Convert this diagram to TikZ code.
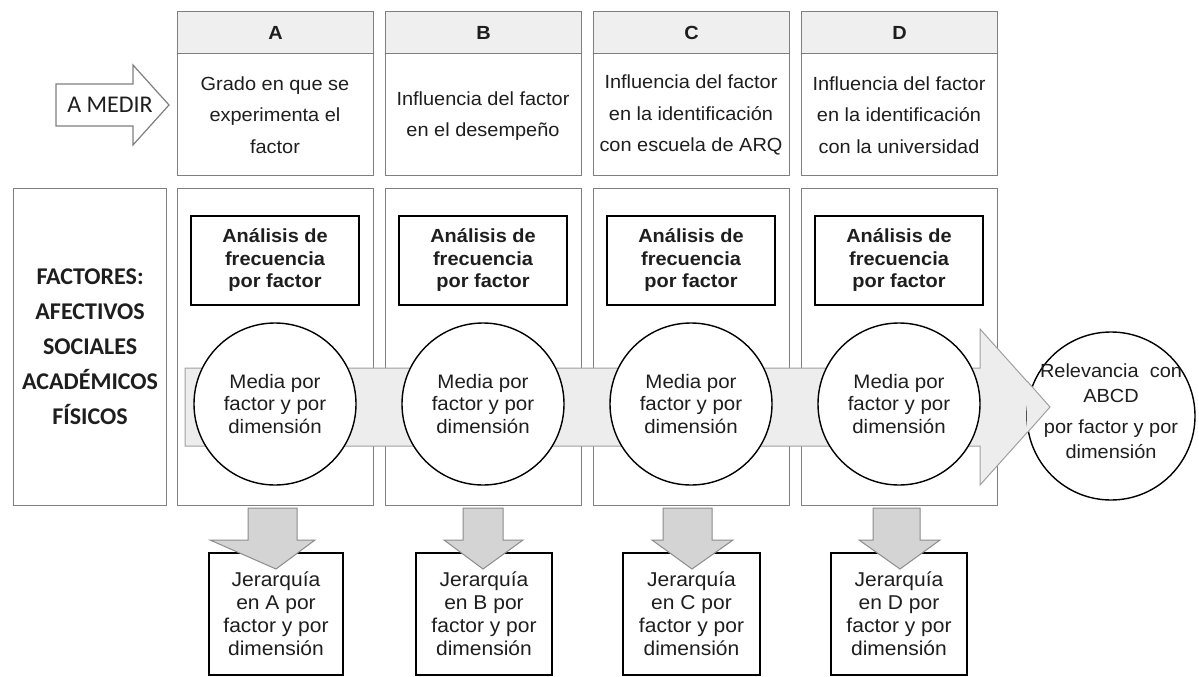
\documentclass[tikz,border=0pt]{standalone}
\usepackage{fontspec}
\setmainfont{Liberation Sans}[FakeStretch=1.05]
\newfontfamily\calibri{Carlito}
\definecolor{boxgray}{HTML}{7F7F7F}
\definecolor{headfill}{HTML}{EFEFEF}
\definecolor{bigfill}{HTML}{EDEDED}
\definecolor{bigline}{HTML}{A0A0A0}
\definecolor{downfill}{HTML}{D4D4D4}
\definecolor{downline}{HTML}{8C8C8C}
\definecolor{txt}{HTML}{1E1E1E}
\begin{document}
\begin{tikzpicture}[x=1pt,y=-1pt,
  every node/.style={text=txt},
  colbox/.style={draw=boxgray, line width=1.2pt, fill=white, rectangle, inner sep=0pt},
  headbox/.style={draw=boxgray, line width=1.2pt, fill=headfill, rectangle, inner sep=0pt, minimum width=196pt, minimum height=42pt, font=\bfseries\fontsize{19}{23}\selectfont},
  coltext/.style={align=center, font=\fontsize{19}{31.5}\selectfont},
  anabox/.style={draw=black, line width=1.8pt, fill=white, rectangle, inner sep=0pt, minimum width=168pt, minimum height=89pt, align=center, font=\bfseries\fontsize{19}{22.5}\selectfont},
  medcirc/.style={draw=black, line width=1.4pt, fill=white, circle, inner sep=0pt, minimum size=162pt, align=center, font=\fontsize{19.5}{22.5}\selectfont},
  jerbox/.style={draw=black, line width=1.8pt, fill=white, rectangle, inner sep=0pt, minimum height=122pt, align=center, font=\fontsize{20}{23}\selectfont},
  bigarrow/.style={draw=bigline, line width=1pt, fill=bigfill, line join=miter},
  downarrow/.style={draw=downline, line width=1pt, fill=downfill, line join=miter}
]
\useasboundingbox (0,0) rectangle (1199,677);

% A MEDIR arrow
\draw[draw=boxgray, line width=1.2pt, fill=white, line join=miter]
  (56,84) -- (133,84) -- (133,65) -- (169,105) -- (133,145) -- (133,126) -- (56,126) -- cycle;
\node[font=\calibri\fontsize{24}{28}\selectfont] (medir) at (110,105) {A MEDIR};

% Factores box
\node[colbox, minimum width=153pt, minimum height=317pt, anchor=north west,
      align=center, font=\calibri\bfseries\fontsize{24}{35}\selectfont] (factores) at (13,188)
  {FACTORES:\\AFECTIVOS\\SOCIALES\\ACADÉMICOS\\FÍSICOS};

% Top column boxes
\foreach \L/\N in {177/A,385/B,593/C,801/D}{
  \node[colbox, minimum width=196pt, minimum height=164pt, anchor=north west] (top\N) at (\L,11) {};
  \node[headbox, anchor=north west] (head\N) at (\L,11) {\N};
  \node[colbox, minimum width=196pt, minimum height=317pt, anchor=north west] (low\N) at (\L,188) {};
}
\node[coltext] (txtA) at (275,115) {Grado en que se\\experimenta el\\factor};
\node[coltext] (txtB) at (483,116) {Influencia del factor\\en el desempeño};
\node[coltext] (txtC) at (691,115) {Influencia del factor\\en la identificación\\con escuela de ARQ};
\node[coltext] (txtD) at (899,115) {Influencia del factor\\en la identificación\\con la universidad};

% Analysis boxes
\foreach \X/\N in {275/A,483/B,691/C,899/D}{
  \node[anabox] (ana\N) at (\X,260.5) {Análisis de\\frecuencia\\por factor};
}

% Big arrow
\draw[bigarrow] (185,368) -- (980,368) -- (980,329) -- (1050,407) -- (980,485) -- (980,446) -- (185,446) -- cycle;

% Circles
\foreach \X/\N in {275/A,483/B,691/C,899/D}{
  \node[medcirc] (med\N) at (\X,404) {Media por\\factor y por\\dimensión};
}

% Relevance circle
\node[draw=black, line width=1.4pt, fill=white, circle, minimum size=168pt, inner sep=0pt] (rel) at (1111,416) {};
\draw[bigarrow] (1027,381) -- (1050,407) -- (1027,433);
\node[align=center, font=\fontsize{19}{24.5}\selectfont] (reltxt) at (1111,411)
  {Relevancia\ \ con\\ABCD\\[7pt]por factor y por\\dimensión};

% Bottom boxes
\node[jerbox, minimum width=134pt] (jerA) at (276,614) {Jerarquía\\en A por\\factor y por\\dimensión};
\node[jerbox, minimum width=136pt] (jerB) at (484,614) {Jerarquía\\en B por\\factor y por\\dimensión};
\node[jerbox, minimum width=137pt] (jerC) at (691.5,614) {Jerarquía\\en C por\\factor y por\\dimensión};
\node[jerbox, minimum width=136pt] (jerD) at (899,614) {Jerarquía\\en D por\\factor y por\\dimensión};

% Down arrows
\draw[downarrow] (248,508) -- (297,508) -- (297,540) -- (315,540) -- (276,569) -- (210,540) -- (248,540) -- cycle;
\draw[downarrow] (463,508) -- (503,508) -- (503,540) -- (523,540) -- (483,569) -- (444,540) -- (463,540) -- cycle;
\draw[downarrow] (663,508) -- (712,508) -- (712,540) -- (733,540) -- (692,569) -- (652,540) -- (663,540) -- cycle;
\draw[downarrow] (873,508) -- (920,508) -- (920,540) -- (940,540) -- (900,569) -- (859,540) -- (873,540) -- cycle;
\end{tikzpicture}
\end{document}
